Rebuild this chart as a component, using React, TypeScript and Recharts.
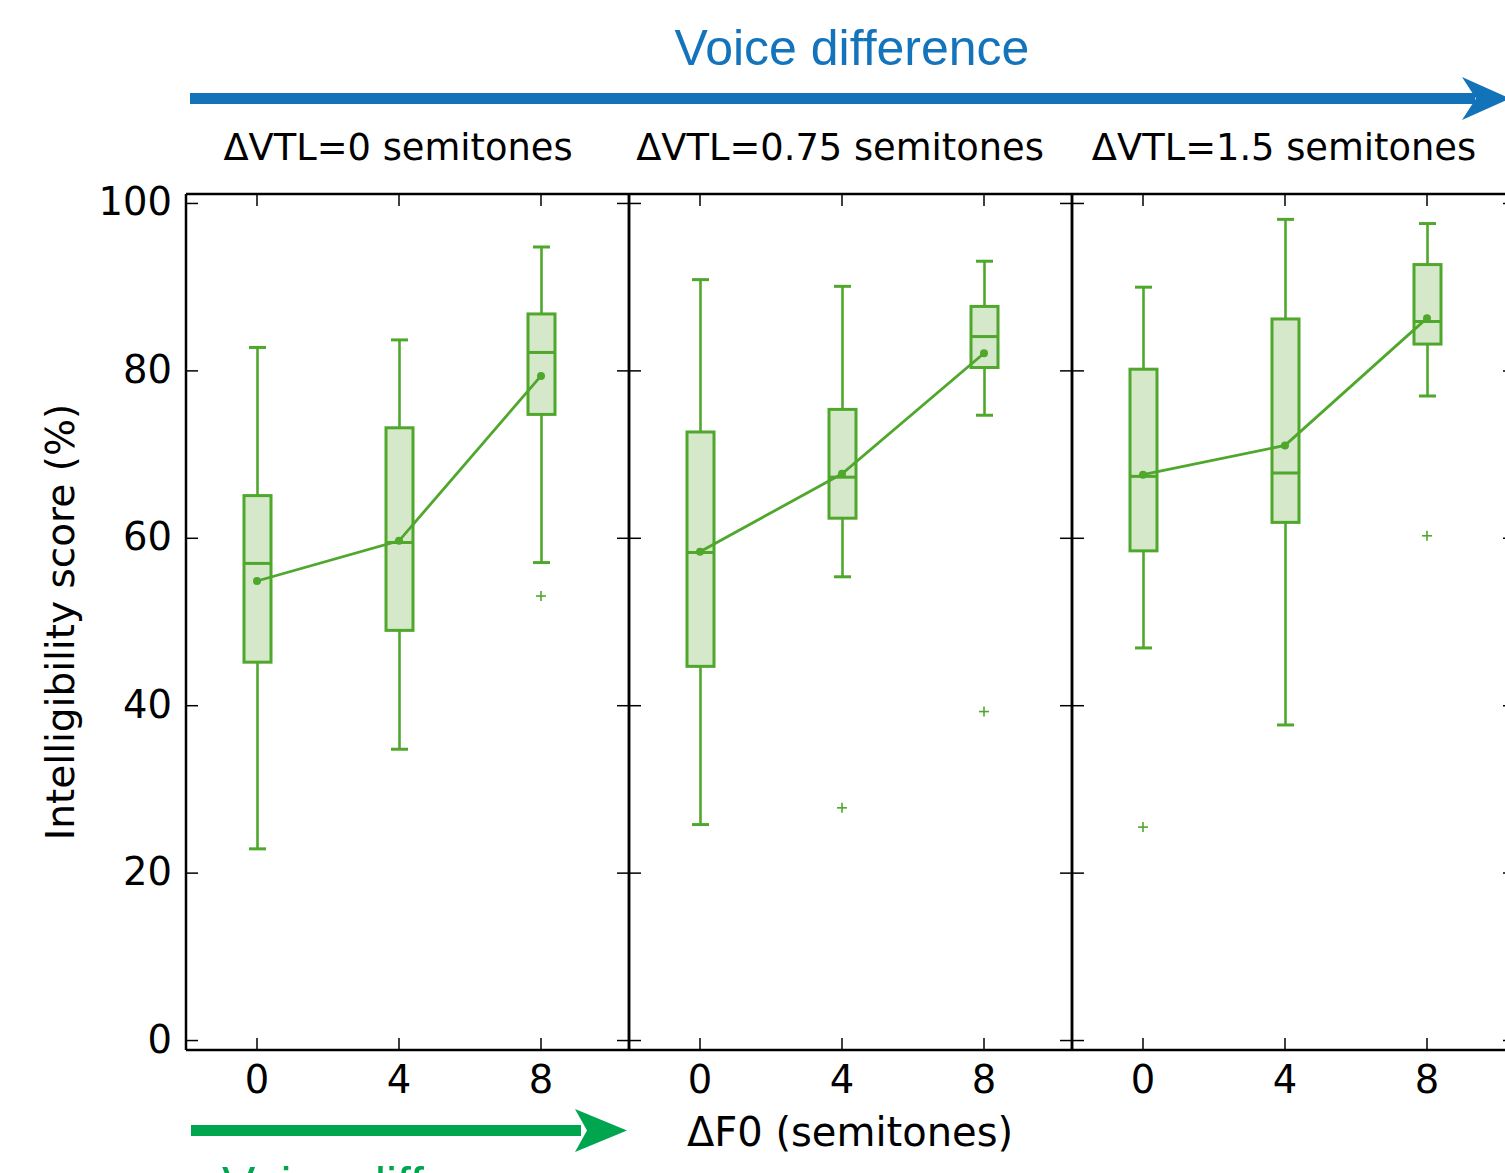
import React from "react"
import { ComposedChart, Bar, Line, XAxis, YAxis, ReferenceLine } from "recharts"

// ΔF0 categories (semitones) shared by the three panels
const deltaF0 = ["0", "4", "8"]
const panelTitles = ["ΔVTL=0 semitones", "ΔVTL=0.75 semitones", "ΔVTL=1.5 semitones"]

// one row per panel, one value per ΔF0
const whiskerLow = [[22.9, 34.8, 57.1], [25.8, 55.4, 74.7], [46.9, 37.7, 77.0]]
const quart1 = [[45.2, 49.0, 74.8], [44.7, 62.4, 80.4], [58.5, 61.9, 83.2]]
const medians = [[57.0, 59.5, 82.2], [58.3, 67.3, 84.1], [67.4, 67.8, 85.9]]
const quart3 = [[65.1, 73.2, 86.8], [72.7, 75.4, 87.7], [80.2, 86.2, 92.7]]
const whiskerHigh = [[82.8, 83.7, 94.8], [90.9, 90.1, 93.1], [90.0, 98.1, 97.6]]
const means = [[54.9, 59.7, 79.4], [58.4, 67.7, 82.1], [67.6, 71.1, 86.3]]
const outliers = [[null, null, 53.1], [null, 27.8, 39.3], [25.5, null, 60.3]]

const yTicks = [0, 20, 40, 60, 80, 100]

const GREEN = "#4fa72c"
const FILL = "#d5e8c9"
const FONT = "DejaVu Sans"

// chart geometry
const PLOT_W = 443
const PLOT_H = 856
const LEFT_W = 100
const RIGHT_W = 20
const TOP = 20
const BOTTOM_H = 60
const CHART_W = LEFT_W + PLOT_W + RIGHT_W
const CHART_H = TOP + PLOT_H + BOTTOM_H
const PLOT_LEFT = LEFT_W
const PLOT_RIGHT = LEFT_W + PLOT_W
const PLOT_TOP = TOP
const PLOT_BOTTOM = TOP + PLOT_H
const Y_MIN = -1.13
const Y_MAX = 101.13
const TICK_LEN = 12
const spineX = [186, 629, 1072]

const buildRows = (p: number) =>
  deltaF0.map((f, i) => ({
    f,
    lo: whiskerLow[p][i],
    q1: quart1[p][i],
    med: medians[p][i],
    q3: quart3[p][i],
    hi: whiskerHigh[p][i],
    mean: means[p][i],
    out: outliers[p][i],
  }))

function WhiskerShape(props: any) {
  const { x, y, width, height } = props
  const cx = x + width / 2
  const top = Math.min(y, y + height)
  const bot = Math.max(y, y + height)
  return (
    <g>
      <line x1={cx} x2={cx} y1={top} y2={bot} stroke={GREEN} strokeWidth={2.6} />
      <line x1={cx - 8.5} x2={cx + 8.5} y1={top} y2={top} stroke={GREEN} strokeWidth={3} />
      <line x1={cx - 8.5} x2={cx + 8.5} y1={bot} y2={bot} stroke={GREEN} strokeWidth={3} />
    </g>
  )
}

function BoxShape(props: any) {
  const { x, y, width, height, payload } = props
  const top = Math.min(y, y + height)
  const bot = Math.max(y, y + height)
  const medY = top + ((bot - top) * (payload.q3 - payload.med)) / (payload.q3 - payload.q1)
  return (
    <g>
      <rect x={x} y={top} width={width} height={bot - top} fill={FILL} stroke={GREEN} strokeWidth={3} />
      <line x1={x} x2={x + width} y1={medY} y2={medY} stroke={GREEN} strokeWidth={3} />
    </g>
  )
}

function OutlierDot(props: any) {
  const { cx, cy, value, index } = props
  if (value == null || cy == null || isNaN(cy)) return <g key={`o${index}`} />
  return (
    <g key={`o${index}`}>
      <line x1={cx - 5} x2={cx + 5} y1={cy} y2={cy} stroke={GREEN} strokeWidth={1.6} />
      <line x1={cx} x2={cx} y1={cy - 5} y2={cy + 5} stroke={GREEN} strokeWidth={1.6} />
    </g>
  )
}

function BottomTick(props: any) {
  const { x, payload } = props
  return (
    <g>
      <line x1={x} x2={x} y1={PLOT_BOTTOM} y2={PLOT_BOTTOM - TICK_LEN} stroke="#000" strokeWidth={1.5} />
      <line x1={x} x2={x} y1={PLOT_TOP} y2={PLOT_TOP + TICK_LEN} stroke="#000" strokeWidth={1.5} />
      <text x={x} y={PLOT_BOTTOM + 42.5} textAnchor="middle" fontFamily={FONT} fontSize={38.5} fill="#000">
        {payload.value}
      </text>
    </g>
  )
}

function makeLeftTick(showLabel: boolean) {
  return function LeftTick(props: any) {
    const { y, payload } = props
    return (
      <g>
        <line x1={PLOT_LEFT} x2={PLOT_LEFT + TICK_LEN} y1={y} y2={y} stroke="#000" strokeWidth={1.5} />
        <line x1={PLOT_RIGHT} x2={PLOT_RIGHT - TICK_LEN} y1={y} y2={y} stroke="#000" strokeWidth={1.5} />
        {showLabel && (
          <text x={PLOT_LEFT - 14} y={y} dy={12} textAnchor="end" fontFamily={FONT} fontSize={38.5} fill="#000">
            {payload.value}
          </text>
        )}
      </g>
    )
  }
}

function Panel({ index }: { index: number }) {
  const rows = buildRows(index)
  return (
    <div style={{ position: "absolute", left: spineX[index] - LEFT_W, top: 194 - TOP }}>
      <ComposedChart
        width={CHART_W}
        height={CHART_H}
        data={rows}
        margin={{ top: TOP, right: 0, bottom: 0, left: 0 }}
        barGap={-27}
      >
        <XAxis
          dataKey="f"
          type="category"
          height={BOTTOM_H}
          padding={{ left: 0, right: 17 }}
          interval={0}
          tickSize={0}
          tickLine={false}
          axisLine={{ stroke: "#000", strokeWidth: 2.5 }}
          tick={BottomTick}
        />
        <YAxis
          yAxisId="left"
          type="number"
          domain={[Y_MIN, Y_MAX]}
          ticks={yTicks}
          allowDataOverflow
          interval={0}
          width={LEFT_W}
          tickSize={0}
          tickLine={false}
          axisLine={{ stroke: "#000", strokeWidth: 2.5 }}
          tick={makeLeftTick(index === 0)}
        />
        <YAxis
          yAxisId="right"
          orientation="right"
          type="number"
          domain={[Y_MIN, Y_MAX]}
          ticks={yTicks}
          allowDataOverflow
          width={RIGHT_W}
          tick={false}
          tickLine={false}
          axisLine={{ stroke: "#000", strokeWidth: 2.5 }}
        />
        <ReferenceLine yAxisId="left" y={Y_MAX} stroke="#000" strokeWidth={2.5} ifOverflow="visible" />
        <Bar
          yAxisId="left"
          dataKey={(d: any) => [d.lo, d.hi]}
          barSize={27}
          shape={WhiskerShape}
          isAnimationActive={false}
        />
        <Bar
          yAxisId="left"
          dataKey={(d: any) => [d.q1, d.q3]}
          barSize={27}
          shape={BoxShape}
          isAnimationActive={false}
        />
        <Line
          yAxisId="left"
          type="linear"
          dataKey="mean"
          stroke={GREEN}
          strokeWidth={2.8}
          dot={{ r: 4, fill: GREEN, stroke: GREEN, strokeWidth: 0 }}
          isAnimationActive={false}
        />
        <Line
          yAxisId="left"
          type="linear"
          dataKey="out"
          stroke="none"
          dot={OutlierDot}
          activeDot={false}
          isAnimationActive={false}
        />
      </ComposedChart>
    </div>
  )
}

const subtitleX = [398, 840, 1284]

export default function App() {
  return (
    <div
      style={{
        position: "absolute",
        left: 0,
        top: 0,
        width: 1505,
        height: 1173,
        overflow: "hidden",
        background: "#fff",
      }}
    >
      {[0, 1, 2].map((i) => (
        <Panel key={i} index={i} />
      ))}
      <svg
        width={1505}
        height={1173}
        style={{ position: "absolute", left: 0, top: 0, pointerEvents: "none" }}
      >
        <text x={852} y={65} textAnchor="middle" fontFamily="Liberation Sans" fontSize={50} fill="#1474bb">
          Voice difference
        </text>
        <rect x={190} y={93} width={1285} height={11} fill="#1273b9" />
        <polygon points="1462,77 1510,98.5 1462,120 1476,98.5" fill="#1273b9" />
        {panelTitles.map((t, i) => (
          <text key={t} x={subtitleX[i]} y={160} textAnchor="middle" fontFamily={FONT} fontSize={36.8} fill="#000">
            {t}
          </text>
        ))}
        <text
          transform="translate(74,622) rotate(-90)"
          textAnchor="middle"
          fontFamily={FONT}
          fontSize={39}
          fill="#000"
        >
          Intelligibility score (%)
        </text>
        <text x={850} y={1146} textAnchor="middle" fontFamily={FONT} fontSize={40} fill="#000">
          ΔF0 (semitones)
        </text>
        <rect x={191} y={1125} width={390} height={11} fill="#00a54f" />
        <polygon points="575,1109 627,1130.5 575,1152 587,1130.5" fill="#00a54f" />
        <text x={222} y={1202} fontFamily="Liberation Sans" fontSize={50} fill="#00a54f">
          Voice difference
        </text>
      </svg>
    </div>
  )
}
